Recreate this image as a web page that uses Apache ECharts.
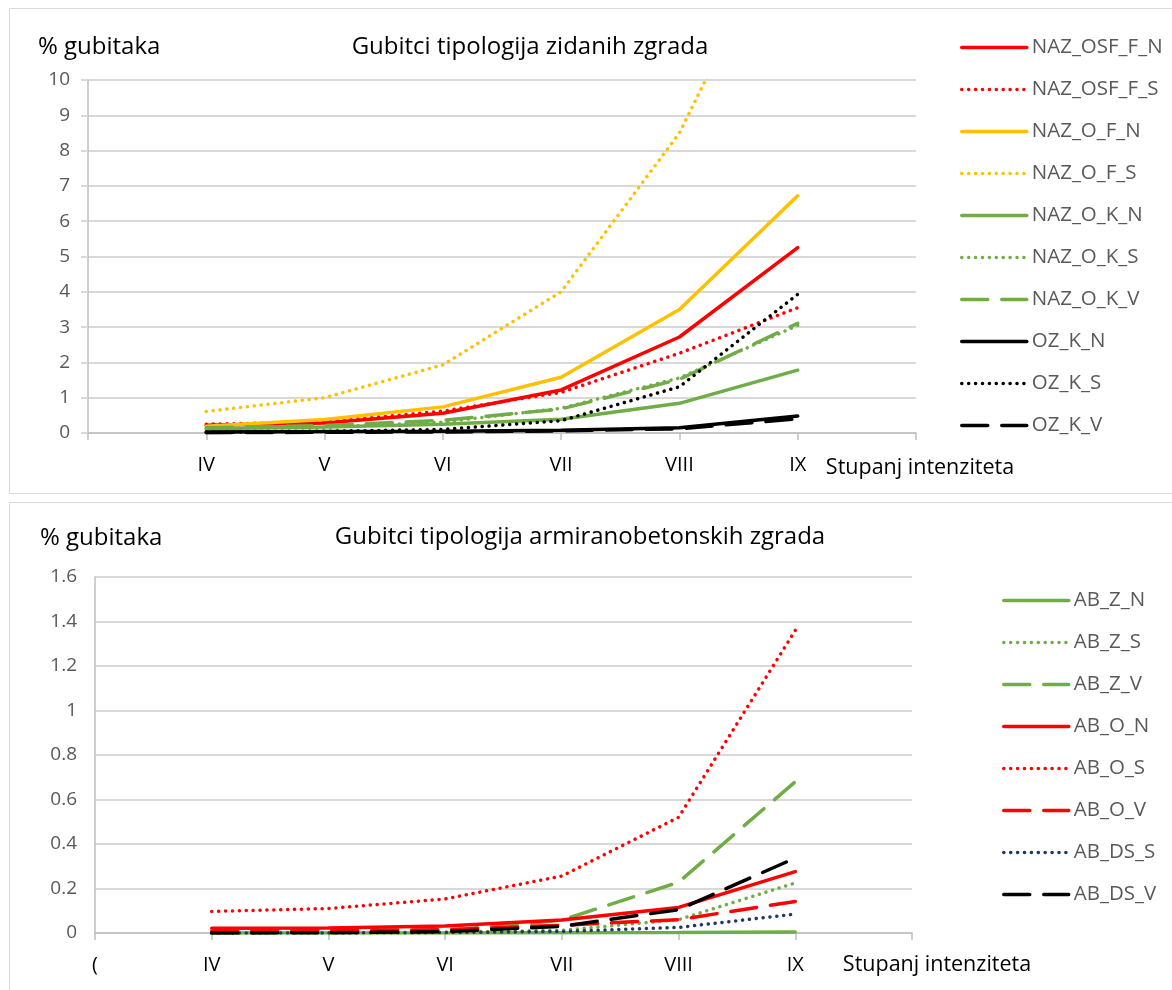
<!DOCTYPE html>
<html>
<head>
<meta charset="utf-8">
<script src="https://cdn.jsdelivr.net/npm/echarts@6/dist/echarts.min.js"></script>
<style>
  html, body { margin: 0; padding: 0; background: #fff; }
  #chart { width: 1172px; height: 990px; }
</style>
</head>
<body>
<div id="chart"></div>
<script>
// intensity degrees, the axis has one empty slot before and after them
const intensity = ['IV', 'V', 'VI', 'VII', 'VIII', 'IX'];
const masonryCats = [''].concat(intensity, ['']);
const rcCats = ['('].concat(intensity, ['']);

// masonry buildings (zidane zgrade), % loss
const nazOsfFN = [0.22, 0.28, 0.56, 1.22, 2.72, 5.25];
const nazOsfFS = [0.25, 0.31, 0.62, 1.15, 2.26, 3.55];
const nazOFN   = [0.19, 0.38, 0.74, 1.58, 3.50, 6.72];
const nazOFS   = [0.61, 1.00, 1.93, 4.00, 8.50, 15.3];
const nazOKN   = [0.12, 0.17, 0.25, 0.39, 0.84, 1.78];
const nazOKS   = [0.10, 0.16, 0.31, 0.70, 1.56, 3.05];
const nazOKV   = [0.15, 0.21, 0.36, 0.68, 1.52, 3.11];
const ozKN     = [0.03, 0.04, 0.05, 0.08, 0.15, 0.48];
const ozKS     = [0.02, 0.05, 0.10, 0.35, 1.31, 3.93];
const ozKV     = [0.01, 0.02, 0.03, 0.06, 0.12, 0.40];

// reinforced concrete buildings (AB zgrade), % loss
const abZN  = [0.000, 0.000, 0.000, 0.001, 0.002, 0.004];
const abZS  = [0.000, 0.001, 0.004, 0.012, 0.060, 0.225];
const abZV  = [0.000, 0.002, 0.010, 0.058, 0.228, 0.680];
const abON  = [0.021, 0.023, 0.032, 0.058, 0.115, 0.276];
const abOS  = [0.097, 0.110, 0.153, 0.256, 0.520, 1.360];
const abOV  = [0.008, 0.010, 0.015, 0.035, 0.060, 0.142];
const abDSS = [0.000, 0.000, 0.002, 0.007, 0.025, 0.085];
const abDSV = [0.000, 0.001, 0.006, 0.030, 0.105, 0.337];

const RED = '#FF0000', YELLOW = '#FFC000', GREEN = '#70AD47', BLACK = '#000000', NAVY = '#203864';
const FONT = '"Open Sans", sans-serif';

const styles = {
  solid: { type: 'solid', width: 3.5, cap: 'round' },
  dot: { type: [0.1, 6.8], width: 3.5, cap: 'round' },
  dash: { type: [26, 14], width: 3.5, cap: 'round' }
};

const legendItems = [[], []];

function line(name, vals, color, kind, idx) {
  const ls = Object.assign({ color: color }, styles[kind]);
  // legend icon: just the line, same dash as the series
  legendItems[idx].push({ name: name, itemStyle: { opacity: 0 }, lineStyle: Object.assign({}, ls) });
  return {
    name: name,
    type: 'line',
    xAxisIndex: idx,
    yAxisIndex: idx,
    data: [null].concat(vals, [null]),
    symbol: 'none',
    color: color,
    lineStyle: ls,
    animation: false
  };
}

const series = [
  line('NAZ_OSF_F_N', nazOsfFN, RED, 'solid', 0),
  line('NAZ_OSF_F_S', nazOsfFS, RED, 'dot', 0),
  line('NAZ_O_F_N', nazOFN, YELLOW, 'solid', 0),
  line('NAZ_O_F_S', nazOFS, YELLOW, 'dot', 0),
  line('NAZ_O_K_N', nazOKN, GREEN, 'solid', 0),
  line('NAZ_O_K_S', nazOKS, GREEN, 'dot', 0),
  line('NAZ_O_K_V', nazOKV, GREEN, 'dash', 0),
  line('OZ_K_N', ozKN, BLACK, 'solid', 0),
  line('OZ_K_S', ozKS, BLACK, 'dot', 0),
  line('OZ_K_V', ozKV, BLACK, 'dash', 0),

  line('AB_Z_N', abZN, GREEN, 'solid', 1),
  line('AB_Z_S', abZS, GREEN, 'dot', 1),
  line('AB_Z_V', abZV, GREEN, 'dash', 1),
  line('AB_O_N', abON, RED, 'solid', 1),
  line('AB_O_S', abOS, RED, 'dot', 1),
  line('AB_O_V', abOV, RED, 'dash', 1),
  line('AB_DS_S', abDSS, NAVY, 'dot', 1),
  line('AB_DS_V', abDSV, BLACK, 'dash', 1)
];

function xAxis(idx, cats) {
  return {
    type: 'category',
    gridIndex: idx,
    data: cats,
    boundaryGap: false,
    axisLine: { lineStyle: { color: '#bfbfbf', width: 1.5 } },
    axisTick: { show: true, length: 7, lineStyle: { color: '#bfbfbf', width: 1.5 } },
    axisLabel: { color: '#000', fontFamily: FONT, fontSize: 20, margin: 22, interval: 0 },
    splitLine: { show: false }
  };
}

function yAxis(idx, max, step, ticks) {
  return {
    type: 'value',
    gridIndex: idx,
    min: 0,
    max: max,
    interval: step,
    axisLine: { show: true, lineStyle: { color: '#bfbfbf', width: 1.5 } },
    axisTick: { show: ticks, length: 7, lineStyle: { color: '#d9d9d9', width: 2 } },
    axisLabel: { color: '#595959', fontFamily: FONT, fontSize: 19, margin: 18 },
    splitLine: { lineStyle: { color: '#d9d9d9', width: 2 } }
  };
}

function legend(items, left, top) {
  return {
    data: items,
    orient: 'vertical',
    left: left,
    top: top,
    itemWidth: 65,
    itemHeight: 20,
    itemGap: 21,
    selectedMode: false,
    textStyle: { color: '#595959', fontFamily: FONT, fontSize: 20.5, lineHeight: 20 }
  };
}

function txt(x, y, text, size, align) {
  return {
    type: 'text',
    x: x,
    y: y,
    style: { text: text, fill: '#000', font: size + 'px ' + FONT, textAlign: align || 'left', textVerticalAlign: 'middle' }
  };
}

const chart = echarts.init(document.getElementById('chart'), null, { renderer: 'canvas' });
chart.setOption({
  animation: false,
  backgroundColor: '#fff',
  grid: [
    { left: 88, top: 80, width: 828, height: 353 },
    { left: 95, top: 577, width: 817, height: 356 }
  ],
  xAxis: [xAxis(0, masonryCats), xAxis(1, rcCats)],
  yAxis: [yAxis(0, 10, 1, true), yAxis(1, 1.6, 0.2, false)],
  legend: [
    legend(legendItems[0], 955, 32),
    legend(legendItems[1], 997, 585)
  ],
  graphic: [
    { type: 'rect', shape: { x: 9.5, y: 8.5, width: 1170, height: 485 }, style: { fill: 'none', stroke: '#d9d9d9', lineWidth: 1 } },
    { type: 'rect', shape: { x: 9.5, y: 502.5, width: 1170, height: 490 }, style: { fill: 'none', stroke: '#d9d9d9', lineWidth: 1 } },
    txt(38, 47, '% gubitaka', 24),
    txt(530, 47, 'Gubitci tipologija zidanih zgrada', 24, 'center'),
    txt(40, 538, '% gubitaka', 24),
    txt(580, 537, 'Gubitci tipologija armiranobetonskih zgrada', 24, 'center'),
    txt(920, 468, 'Stupanj intenziteta', 21.5, 'center'),
    txt(937, 965, 'Stupanj intenziteta', 21.5, 'center')
  ],
  series: series
});
</script>
</body>
</html>
